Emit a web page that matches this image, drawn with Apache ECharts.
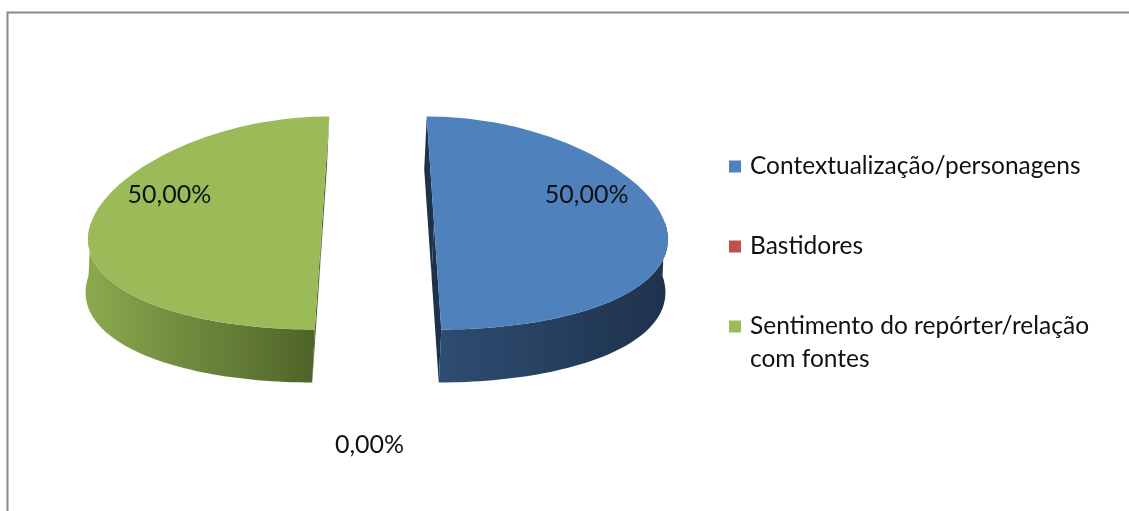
<!DOCTYPE html>
<html><head><meta charset="utf-8">
<script src="https://cdn.jsdelivr.net/npm/echarts@6/dist/echarts.min.js"></script>
<style>html,body{margin:0;padding:0;background:#fff}#c{width:1129px;height:511px}</style>
</head><body><div id="c"></div>
<script>
// ---- data ----
const categories = ['Contextualização/personagens', 'Bastidores', 'Sentimento do repórter/relação com fontes'];
const values = [50, 0, 50];
const topColors = ['#4F81BD', '#C0504D', '#9BBB59'];
const sideColorsLight = ['#2E4D72', '#8A3A38', '#8CA94F'];
const sideColorsDark = ['#1E324C', '#5E2524', '#4E6428'];

// ---- geometry (layout only) ----
const G = { cx: 378, cy: 223, rx: 231, ry: 106.5, depth: 53, explode: 56, persp: 0.13, shift: -2.5 };
const FONT = 'Lato, "Open Sans", sans-serif';
const total = values.reduce((a, b) => a + b, 0);

function sliceAngles(i) {
  let a = 0;
  for (let k = 0; k < i; k++) a += values[k] / total * 2 * Math.PI;
  return [a, a + values[i] / total * 2 * Math.PI];
}
function proj(X, Y, h) {
  const v = Y / G.ry;
  const s = 1 + G.persp * v;
  return [G.cx + X * s + h * G.shift, G.cy + Y + h * G.depth];
}
function pt(i, th, r, h) {
  const [a0, a1] = sliceAngles(i);
  const m = (a0 + a1) / 2;
  const ex = values[i] > 0 ? G.explode : 0;
  const X = ex * Math.sin(m) + r * G.rx * Math.sin(th);
  const Y = -ex * Math.cos(m) * G.ry / G.rx - r * G.ry * Math.cos(th);
  return proj(X, Y, h);
}
function arc(i, t0, t1, h, n) {
  const pts = [];
  for (let k = 0; k <= n; k++) pts.push(pt(i, t0 + (t1 - t0) * k / n, 1, h));
  return pts;
}
function fmtPct(v) {
  return (v / total * 100).toFixed(2).replace('.', ',') + '%';
}

function renderItem(params, api) {
  const i = params.seriesIndex;
  const [a0, a1] = sliceAngles(i);
  const children = [];
  const grad = {
    type: 'linear', x: 0, y: 0, x2: 1, y2: 0,
    colorStops: [{ offset: 0, color: sideColorsLight[i] }, { offset: 1, color: sideColorsDark[i] }]
  };
  if (a1 > a0) {
    // cut faces
    [a0, a1].forEach(function (a) {
      const c0 = pt(i, 0, 0, 0), c1 = pt(i, 0, 0, 1);
      const e0 = pt(i, a, 1, 0), e1 = pt(i, a, 1, 1);
      children.push({ type: 'polygon', shape: { points: [c0, e0, e1, c1] }, style: { fill: sideColorsDark[i] } });
    });
    // outer side (front half only)
    const t0 = Math.max(a0, Math.PI / 2), t1 = Math.min(a1, 3 * Math.PI / 2);
    if (t1 > t0) {
      const topArc = arc(i, t0, t1, 0, 60);
      const botArc = arc(i, t0, t1, 1, 60).reverse();
      children.push({ type: 'polygon', shape: { points: topArc.concat(botArc) }, style: { fill: grad } });
    }
    // top face
    const face = [pt(i, 0, 0, 0)].concat(arc(i, a0, a1, 0, 120));
    children.push({ type: 'polygon', shape: { points: face }, style: { fill: topColors[i] } });
  }
  // label
  let lp;
  if (values[i] > 0) {
    const m = (a0 + a1) / 2;
    lp = pt(i, m - 0.36 * Math.sign(Math.sin(m)), 0.74, 0);
  } else {
    const b = pt(i, a0, 1, 1);
    lp = [b[0] - 6, b[1] + 62];
  }
  children.push({
    type: 'text',
    style: {
      text: fmtPct(values[i]), x: lp[0], y: lp[1],
      fill: '#111', font: '25px ' + FONT,
      align: 'center', verticalAlign: 'middle'
    }
  });
  return { type: 'group', children: children };
}

function wrapName(name) {
  if (name.length <= 30) return name;
  const cut = name.lastIndexOf(' ', 30);
  // leading blank line keeps the first text line level with the legend square
  return ' \n' + name.slice(0, cut) + '\n' + name.slice(cut + 1);
}

const legendBase = {
  orient: 'vertical', left: 729, padding: 0,
  itemWidth: 12, itemHeight: 12, itemGap: 47,
  icon: 'rect', selectedMode: false,
  formatter: wrapName,
  textStyle: { fontFamily: FONT, fontSize: 24.5, color: '#111', lineHeight: 33, padding: [0, 0, 0, 4] }
};

const chart = echarts.init(document.getElementById('c'), null, { renderer: 'canvas' });
chart.setOption({
  animation: false,
  backgroundColor: '#fff',
  graphic: [{
    type: 'rect', silent: true,
    shape: { x: 7.5, y: 12.5, width: 1200, height: 600 },
    style: { fill: null, stroke: '#898989', lineWidth: 2 }
  }],
  legend: [
    Object.assign({}, legendBase, { top: 150, data: categories.slice(0, 2) }),
    Object.assign({}, legendBase, { top: 277, data: categories.slice(2) })
  ],
  series: categories.map(function (c, i) {
    return {
      type: 'custom', name: c, coordinateSystem: 'none', silent: true,
      itemStyle: { color: topColors[i] },
      renderItem: renderItem,
      data: [[values[i]]]
    };
  })
});
</script></body></html>
